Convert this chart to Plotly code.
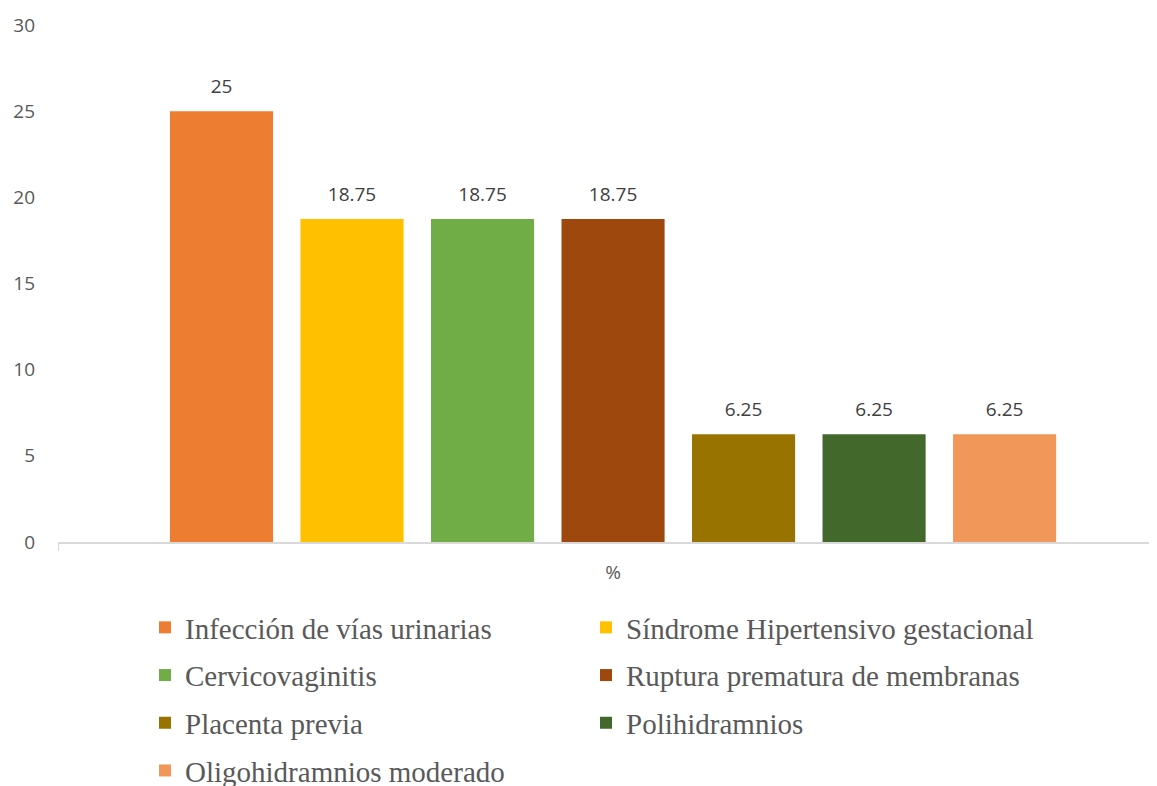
import plotly.graph_objects as go

categories = ["%"]
series_names = [
    "Infección de vías urinarias",
    "Síndrome Hipertensivo gestacional",
    "Cervicovaginitis",
    "Ruptura prematura de membranas",
    "Placenta previa",
    "Polihidramnios",
    "Oligohidramnios moderado",
]
series_values = [25, 18.75, 18.75, 18.75, 6.25, 6.25, 6.25]
colors = ["#ED7D31", "#FFC000", "#70AD47", "#9E480E", "#997300", "#43682B", "#F1975A"]
y_ticks = [0, 5, 10, 15, 20, 25, 30]

fig = go.Figure()
for i, (name, val, col) in enumerate(zip(series_names, series_values, colors)):
    fig.add_trace(go.Bar(
        x=categories, y=[val], name=name, marker_color=col,
        marker_line_width=0,
        legend="legend" if i % 2 == 0 else "legend2",
        legendgroup=name,
        hoverinfo="skip",
    ))
for i, (name, val) in enumerate(zip(series_names, series_values)):
    fig.add_trace(go.Scatter(
        x=categories, y=[val], mode="markers+text",
        text=[f"{val:g}"], textposition="top center",
        textfont=dict(family="Open Sans", size=19, color="#404040"),
        marker=dict(size=20, opacity=0),
        showlegend=False, hoverinfo="skip", cliponaxis=False,
    ))

W, H = 1149, 778  # page body has an 8px margin

legend_common = dict(
    orientation="v", xref="container", yref="container",
    yanchor="top", xanchor="left",
    font=dict(family="Liberation Serif", size=29, color="#595959"),
    tracegroupgap=7, bgcolor="rgba(0,0,0,0)", itemclick=False,
)

fig.update_layout(
    width=W, height=H,
    margin=dict(l=50, r=0, t=17, b=244, autoexpand=False),
    paper_bgcolor="white", plot_bgcolor="white",
    barmode="group", bargap=0.177, bargroupgap=0.21,
    scattermode="group", scattergap=0.177,
    showlegend=True,
    legend=dict(x=137 / W, y=1 - 594 / H, **legend_common),
    legend2=dict(x=578 / W, y=1 - 594 / H, **legend_common),
    xaxis=dict(
        type="category", range=[-0.5, 0.49],
        showline=True, linecolor="#D9D9D9", linewidth=1.5,
        ticks="outside", tickson="boundaries", ticklen=7, tickcolor="#D9D9D9",
        tickfont=dict(family="Open Sans", size=19, color="#595959"),
        ticklabelstandoff=12,
        showgrid=False, zeroline=False,
    ),
    yaxis=dict(
        range=[0, 30], tickvals=y_ticks,
        showgrid=False, zeroline=False, showline=False,
        tickfont=dict(family="Open Sans", size=19, color="#595959"),
        ticklabelstandoff=22,
    ),
)

fig.write_html("out.html")
